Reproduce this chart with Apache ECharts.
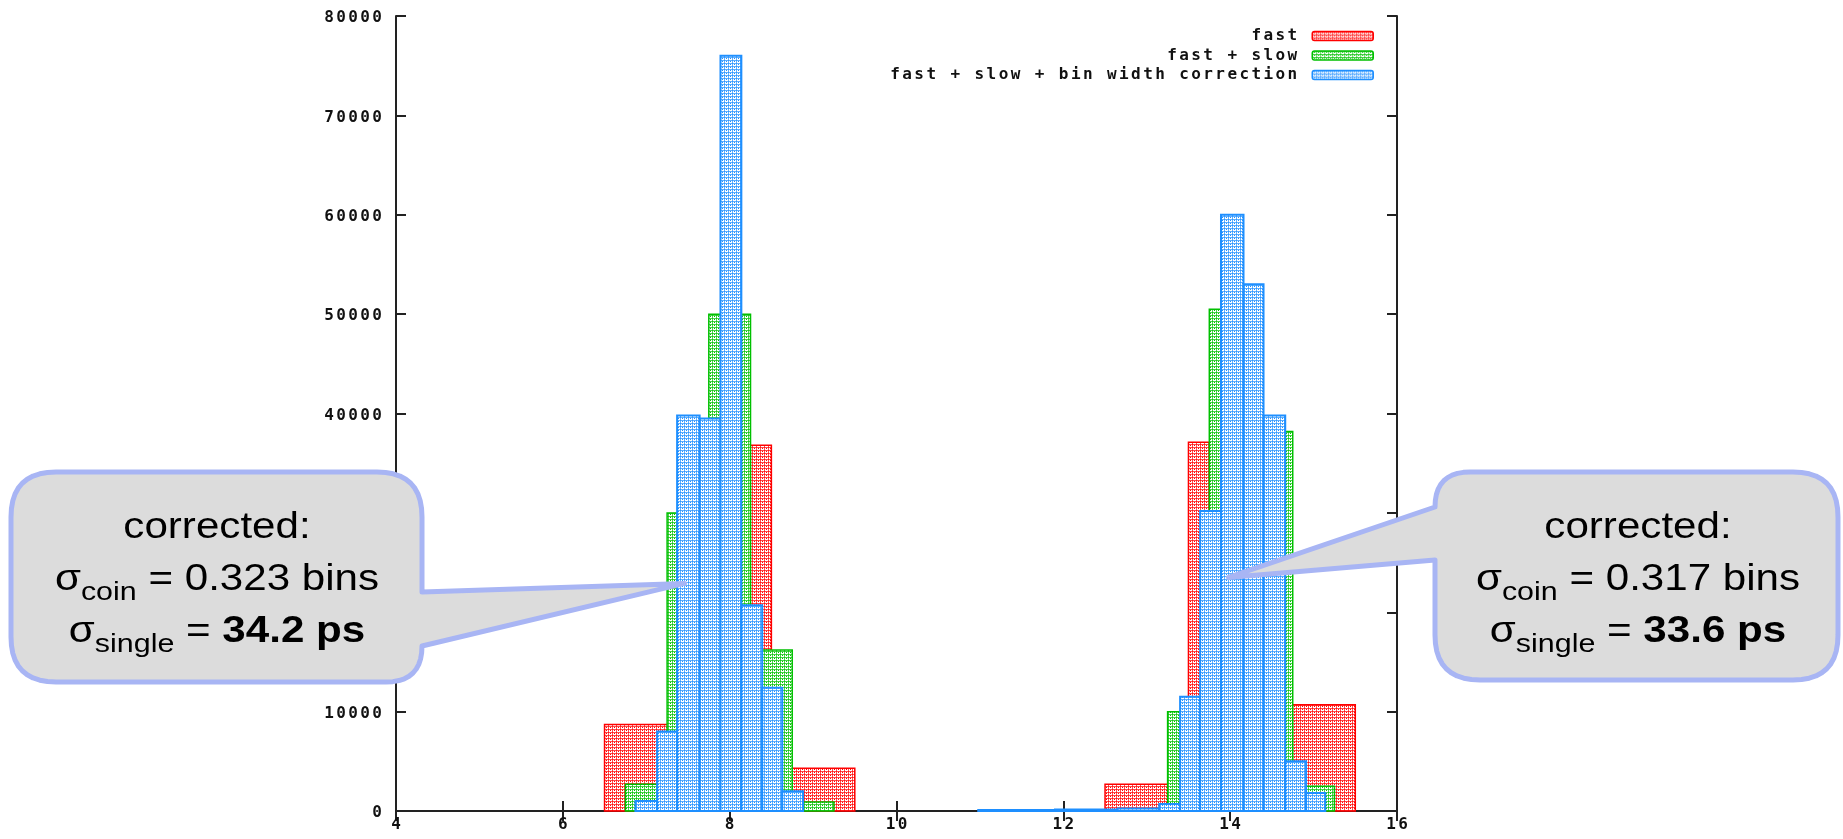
<!DOCTYPE html>
<html>
<head>
<meta charset="utf-8">
<title>bin width correction</title>
<script src="https://cdn.jsdelivr.net/npm/echarts@6/dist/echarts.min.js"></script>
<style>
  html, body { margin: 0; padding: 0; background: #fff; }
  #chart { width: 1843px; height: 839px; }
</style>
</head>
<body>
<div id="chart"></div>
<script>
// histogram bins: [from, to, count]
const fastBins = [
  [6.5, 7.5, 8700], [7.5, 8.5, 36800], [8.5, 9.5, 4300],
  [12.5, 13.5, 2700], [13.5, 14.5, 37100], [14.5, 15.5, 10700],
];
const fastSlowBins = [
  [6.75, 7.25, 2700], [7.25, 7.75, 30000], [7.75, 8.25, 50000], [8.25, 8.75, 16200], [8.75, 9.25, 900],
  [13.25, 13.75, 10000], [13.75, 14.25, 50500], [14.25, 14.75, 38200], [14.75, 15.25, 2500],
];
const correctedBins = [
  [6.87, 7.13, 1000], [7.13, 7.37, 8000], [7.37, 7.64, 39800], [7.64, 7.89, 39500],
  [7.89, 8.14, 76000], [8.14, 8.39, 20700], [8.39, 8.63, 12400], [8.63, 8.88, 2000],
  [10.98, 11.9, 100], [11.9, 12.65, 150], [12.65, 13.15, 250],
  [13.15, 13.4, 700], [13.4, 13.64, 11500], [13.64, 13.89, 30200], [13.89, 14.16, 60000],
  [14.16, 14.4, 53000], [14.4, 14.66, 39800], [14.66, 14.91, 5000], [14.91, 15.14, 1800],
];
const seriesNames = ['fast', 'fast + slow', 'fast + slow + bin width correction'];

// callout notes
const leftNote = { coin: '0.323 bins', single: '34.2 ps', tip: [7.46, 22900] };
const rightNote = { coin: '0.317 bins', single: '33.6 ps', tip: [13.98, 23500] };

const lineColors = ['#ff0000', '#00c000', '#1e8fff'];
const monoFont = 'DejaVu Sans Mono';

// gnuplot like dotted fill
function makePattern(color) {
  const c = document.createElement('canvas');
  c.width = 4;
  c.height = 3;
  const ctx = c.getContext('2d');
  ctx.fillStyle = '#fff';
  ctx.fillRect(0, 0, 4, 3);
  ctx.globalAlpha = 0.7;
  ctx.fillStyle = color;
  ctx.fillRect(0, 0, 4, 1);
  ctx.fillRect(0, 0, 1, 3);
  ctx.globalAlpha = 1;
  ctx.fillRect(2, 1, 1, 1);
  return { image: c, repeat: 'repeat' };
}
const fills = lineColors.map(makePattern);

// spread characters out, the plot font is wide
function spaceOut(s) {
  return String(s).split('').map((ch) => '{d|' + ch + '}').join('{s| }');
}
const monoRich = {
  d: { fontFamily: monoFont, fontSize: 16, fontWeight: 'bold', color: '#111', lineHeight: 18 },
  s: { fontFamily: monoFont, fontSize: 4, lineHeight: 18 },
  g: { width: 10 },
};

function histItem(i) {
  return function (params, api) {
    const a = api.coord([api.value(0), api.value(2)]);
    const b = api.coord([api.value(1), 0]);
    return {
      type: 'rect',
      shape: { x: a[0], y: a[1], width: b[0] - a[0], height: b[1] - a[1] },
      style: { fill: fills[i], stroke: lineColors[i], lineWidth: i === 2 ? 2 : 1.5 },
    };
  };
}

const axisLine = { show: true, lineStyle: { color: '#222', width: 2 } };
const axisTick = { show: true, inside: true, length: 10, lineStyle: { color: '#222', width: 2 } };
const labelStyle = {
  fontFamily: monoFont, fontSize: 16, color: '#000',
  rich: monoRich,
  formatter: (v) => spaceOut(v),
};

const chart = echarts.init(document.getElementById('chart'));

chart.setOption({
  backgroundColor: '#fff',
  animation: false,
  grid: { left: 396, right: 446, top: 16, bottom: 28 },
  xAxis: [{
    type: 'value', min: 4, max: 16, interval: 2,
    axisLine, axisTick, splitLine: { show: false },
    axisLabel: Object.assign({ margin: 5 }, labelStyle),
  }, {
    type: 'value', position: 'top', min: 4, max: 16, interval: 2,
    axisLine, axisTick, splitLine: { show: false }, axisLabel: { show: false },
  }],
  yAxis: [{
    type: 'value', min: 0, max: 80000, interval: 10000,
    axisLine, axisTick, splitLine: { show: false },
    axisLabel: Object.assign({ margin: 14, padding: [4, 0, 0, 0] }, labelStyle),
  }, {
    type: 'value', position: 'right', min: 0, max: 80000, interval: 10000,
    axisLine, axisTick, splitLine: { show: false }, axisLabel: { show: false },
  }],
  legend: seriesNames.map((n, i) => ({
    data: [{ name: n, itemStyle: { color: fills[i], borderColor: lineColors[i], borderWidth: 1.5 } }],
    right: 469,
    top: 27 + i * 19.5,
    align: 'right',
    padding: 0,
    itemWidth: 61,
    itemHeight: 9,
    selectedMode: false,
    formatter: (name) => spaceOut(name) + '{g|}',
    textStyle: { fontFamily: monoFont, fontSize: 16, color: '#000', lineHeight: 18, rich: monoRich },
  })),
  series: [fastBins, fastSlowBins, correctedBins].map((bins, i) => ({
    name: seriesNames[i],
    type: 'custom',
    renderItem: histItem(i),
    itemStyle: { color: lineColors[i] },
    encode: { x: [0, 1], y: 2 },
    data: bins,
  })),
});

// callout boxes, outline as polygon with sampled rounded corners
function outline(start, segs) {
  const pts = [start];
  let cur = start;
  segs.forEach((s) => {
    if (s.length === 2) {
      pts.push(s);
      cur = s;
    } else {
      const c = [s[0], s[1]];
      const e = [s[2], s[3]];
      for (let k = 1; k <= 10; k++) {
        const t = k / 10;
        const u = 1 - t;
        pts.push([u * u * cur[0] + 2 * u * t * c[0] + t * t * e[0], u * u * cur[1] + 2 * u * t * c[1] + t * t * e[1]]);
      }
      cur = e;
    }
  });
  return pts;
}

function noteText(note) {
  return '{a|corrected:}\n{a|σ}{b|coin}{a| = ' + note.coin + '}\n{a|σ}{b|single}{a| = }{c|' + note.single + '}';
}
const noteRich = {
  a: { fontFamily: 'Liberation Sans', fontSize: 36, lineHeight: 52, color: '#000' },
  b: { fontFamily: 'Liberation Sans', fontSize: 26, lineHeight: 25, verticalAlign: 'bottom', color: '#000' },
  c: { fontFamily: 'Liberation Sans', fontSize: 36, lineHeight: 52, fontWeight: 'bold', color: '#000' },
};
const boxStyle = { fill: '#dcdcdc', stroke: '#a8b5f4', lineWidth: 5, lineJoin: 'round' };

const lt = chart.convertToPixel({ gridIndex: 0 }, leftNote.tip);
const rt = chart.convertToPixel({ gridIndex: 0 }, rightNote.tip);

const leftBox = outline([56, 472], [
  [377, 472], [422, 472, 422, 517], [422, 592], lt, [422, 646],
  [422, 682, 386, 682], [56, 682], [11, 682, 11, 637], [11, 517], [11, 472, 56, 472],
]);
const rightBox = outline([1470, 472], [
  [1793, 472], [1838, 472, 1838, 517], [1838, 635], [1838, 680, 1793, 680], [1480, 680],
  [1435, 680, 1435, 635], [1435, 560], rt, [1435, 507], [1435, 472, 1470, 472],
]);

chart.setOption({
  graphic: [
    { type: 'polygon', z: 100, shape: { points: leftBox }, style: boxStyle },
    { type: 'polygon', z: 100, shape: { points: rightBox }, style: boxStyle },
    {
      type: 'text', z: 101, x: 217, y: 580, scaleX: 1.17,
      style: { text: noteText(leftNote), align: 'center', verticalAlign: 'middle', rich: noteRich },
    },
    {
      type: 'text', z: 101, x: 1638, y: 580, scaleX: 1.17,
      style: { text: noteText(rightNote), align: 'center', verticalAlign: 'middle', rich: noteRich },
    },
  ],
});
</script>
</body>
</html>
